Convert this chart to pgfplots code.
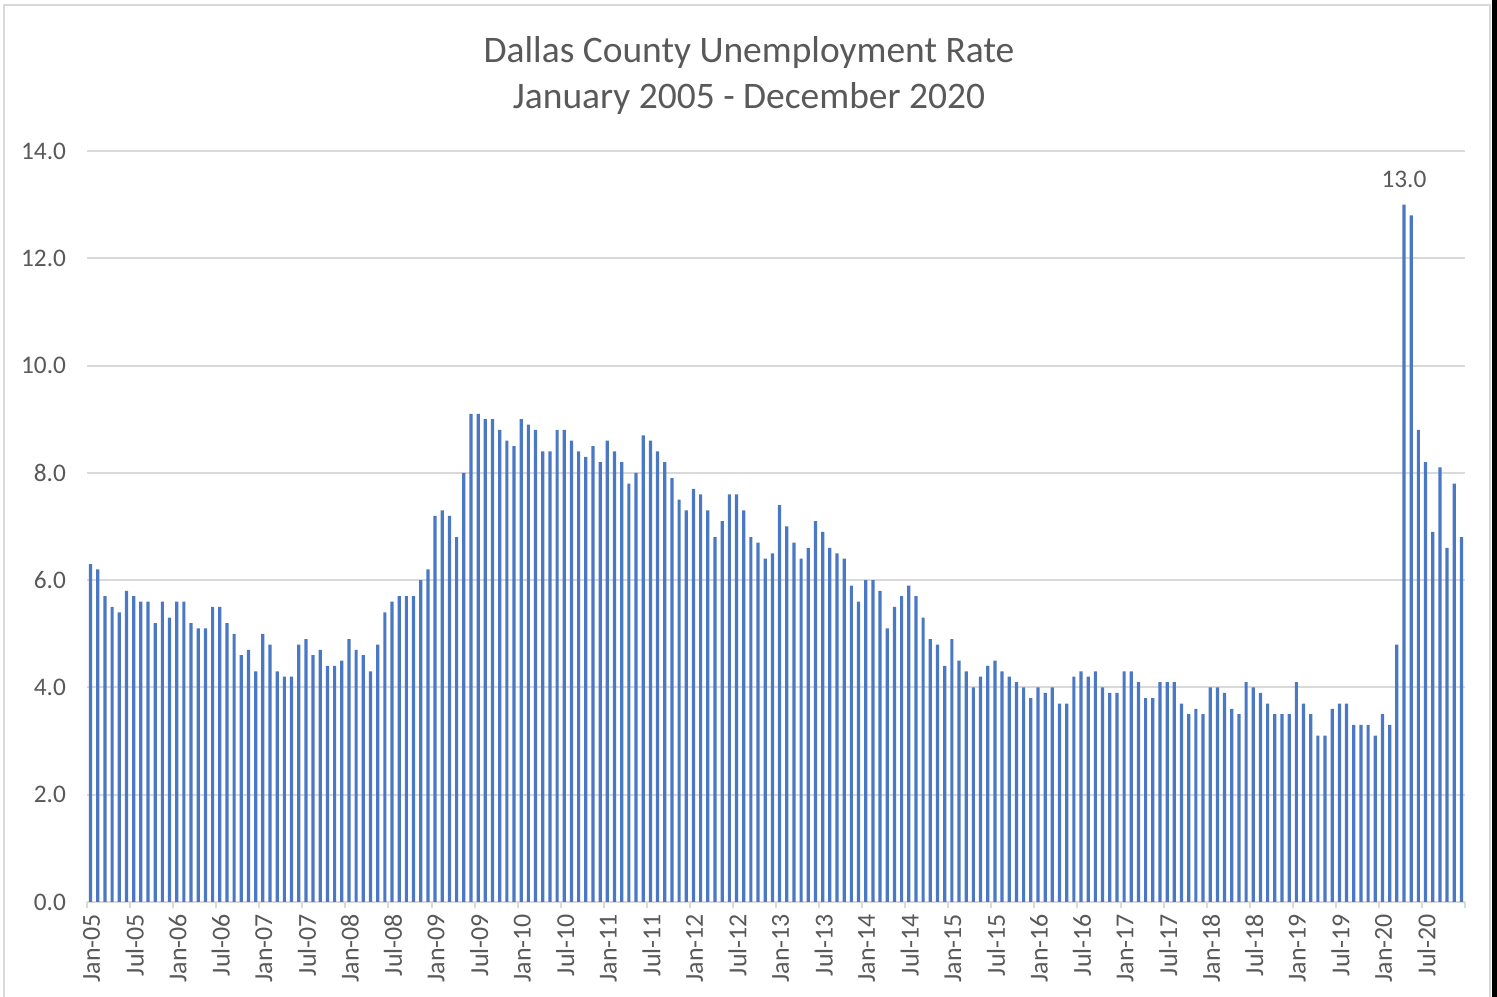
\documentclass[border=0pt]{standalone}
\usepackage{pgfplots}
\pgfplotsset{compat=1.18}
\usepackage{pgfplotstable}
\usepackage{fontspec}
\setmainfont{Carlito}
\definecolor{barblue}{HTML}{4A78C4}
\definecolor{txtgray}{HTML}{595959}
\definecolor{gridgray}{HTML}{D9D9D9}
\pgfplotstableread{
x y
0 6.3
1 6.2
2 5.7
3 5.5
4 5.4
5 5.8
6 5.7
7 5.6
8 5.6
9 5.2
10 5.6
11 5.3
12 5.6
13 5.6
14 5.2
15 5.1
16 5.1
17 5.5
18 5.5
19 5.2
20 5.0
21 4.6
22 4.7
23 4.3
24 5.0
25 4.8
26 4.3
27 4.2
28 4.2
29 4.8
30 4.9
31 4.6
32 4.7
33 4.4
34 4.4
35 4.5
36 4.9
37 4.7
38 4.6
39 4.3
40 4.8
41 5.4
42 5.6
43 5.7
44 5.7
45 5.7
46 6.0
47 6.2
48 7.2
49 7.3
50 7.2
51 6.8
52 8.0
53 9.1
54 9.1
55 9.0
56 9.0
57 8.8
58 8.6
59 8.5
60 9.0
61 8.9
62 8.8
63 8.4
64 8.4
65 8.8
66 8.8
67 8.6
68 8.4
69 8.3
70 8.5
71 8.2
72 8.6
73 8.4
74 8.2
75 7.8
76 8.0
77 8.7
78 8.6
79 8.4
80 8.2
81 7.9
82 7.5
83 7.3
84 7.7
85 7.6
86 7.3
87 6.8
88 7.1
89 7.6
90 7.6
91 7.3
92 6.8
93 6.7
94 6.4
95 6.5
96 7.4
97 7.0
98 6.7
99 6.4
100 6.6
101 7.1
102 6.9
103 6.6
104 6.5
105 6.4
106 5.9
107 5.6
108 6.0
109 6.0
110 5.8
111 5.1
112 5.5
113 5.7
114 5.9
115 5.7
116 5.3
117 4.9
118 4.8
119 4.4
120 4.9
121 4.5
122 4.3
123 4.0
124 4.2
125 4.4
126 4.5
127 4.3
128 4.2
129 4.1
130 4.0
131 3.8
132 4.0
133 3.9
134 4.0
135 3.7
136 3.7
137 4.2
138 4.3
139 4.2
140 4.3
141 4.0
142 3.9
143 3.9
144 4.3
145 4.3
146 4.1
147 3.8
148 3.8
149 4.1
150 4.1
151 4.1
152 3.7
153 3.5
154 3.6
155 3.5
156 4.0
157 4.0
158 3.9
159 3.6
160 3.5
161 4.1
162 4.0
163 3.9
164 3.7
165 3.5
166 3.5
167 3.5
168 4.1
169 3.7
170 3.5
171 3.1
172 3.1
173 3.6
174 3.7
175 3.7
176 3.3
177 3.3
178 3.3
179 3.1
180 3.5
181 3.3
182 4.8
183 13.0
184 12.8
185 8.8
186 8.2
187 6.9
188 8.1
189 6.6
190 7.8
191 6.8
}\datatable
\begin{document}
\begin{tikzpicture}
\useasboundingbox (0,0) rectangle (748.5bp,498.5bp);
\fill[white] (0,0) rectangle (748.5bp,498.5bp);
\draw[gridgray, line width=1bp] (2bp,-3bp) -- (2bp,496bp) -- (745bp,496bp) -- (745bp,-3bp);
\fill[black] (746bp,0) rectangle (748.5bp,498.5bp);
\node[text=txtgray, font=\fontsize{18.8}{22}\selectfont] at (374.5bp,472bp) {Dallas County Unemployment Rate};
\node[text=txtgray, font=\fontsize{18.8}{22}\selectfont] at (374.5bp,449bp) {January 2005 - December 2020};
\begin{axis}[
  at={(43.5bp,47.5bp)}, anchor=south west,
  scale only axis, width=689bp, height=375.5bp,
  xmin=-0.5, xmax=191.5, ymin=0, ymax=14,
  axis x line*=bottom, axis y line*=left,
  x axis line style={draw=gridgray, line width=1bp, -},
  y axis line style={draw=none},
  ymajorgrids, grid style={draw=gridgray, line width=1bp},
  ytick={0,2,...,14},
  yticklabels={0.0,2.0,4.0,6.0,8.0,10.0,12.0,14.0},
  ytick style={draw=none},
  yticklabel style={text=txtgray, font=\fontsize{12.7}{15}\selectfont, anchor=east, xshift=-7bp},
  xtick={0,6,...,186},
  xticklabels={Jan-05,Jul-05,Jan-06,Jul-06,Jan-07,Jul-07,Jan-08,Jul-08,Jan-09,Jul-09,Jan-10,Jul-10,Jan-11,Jul-11,Jan-12,Jul-12,Jan-13,Jul-13,Jan-14,Jul-14,Jan-15,Jul-15,Jan-16,Jul-16,Jan-17,Jul-17,Jan-18,Jul-18,Jan-19,Jul-19,Jan-20,Jul-20},
  xtick style={draw=none},
  xticklabel style={rotate=90, anchor=east, text=txtgray, font=\fontsize{13}{15}\selectfont, xshift=-2.5bp, yshift=-0.5bp},
  extra x ticks={-0.5,5.5,11.5,17.5,23.5,29.5,35.5,41.5,47.5,53.5,59.5,65.5,71.5,77.5,83.5,89.5,95.5,101.5,107.5,113.5,119.5,125.5,131.5,137.5,143.5,149.5,155.5,161.5,167.5,173.5,179.5,185.5,191.5},
  extra x tick labels={},
  extra x tick style={major tick length=3bp, tick align=outside, xtick style={draw=gridgray, line width=1bp}},
  clip=false,
]
\addplot[ybar, bar width=1.6bp, fill=barblue, draw=none] table[x=x,y=y]{\datatable};
\node[anchor=south, text=txtgray, font=\fontsize{12.7}{15}\selectfont, yshift=5bp] at (axis cs:183,13.0) {13.0};
\end{axis}
\end{tikzpicture}
\end{document}
